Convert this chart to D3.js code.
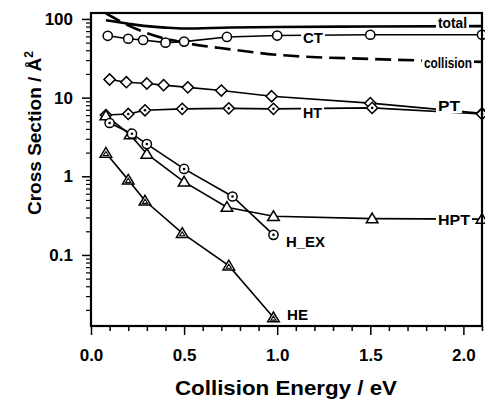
<!DOCTYPE html>
<html><head><meta charset="utf-8">
<script src="https://cdn.jsdelivr.net/npm/d3@7"></script>
<style>body{margin:0;background:#fff}svg{display:block}</style>
</head><body><svg id="c" width="485" height="405"></svg>
<script>
// ---- data ----
const totalX = [0.08, 0.2, 0.3, 0.4, 0.5, 0.75, 1.0, 1.5, 2.1];
const totalY = [96, 87, 81, 77.5, 75.6, 78, 79, 80, 81];
const collisionX = [0.08, 0.2, 0.3, 0.5, 0.75, 1.0, 1.5, 2.1];
const collisionY = [118, 83, 66, 50, 41, 35, 31, 28.5];
const ctX = [0.09, 0.2, 0.28, 0.4, 0.5, 0.73, 1.0, 1.5, 2.1];
const ctY = [61, 56, 54, 50, 51.5, 59, 61.5, 63, 63];
const ptX = [0.1, 0.19, 0.3, 0.39, 0.52, 0.7, 0.97, 1.5, 2.1];
const ptY = [17, 15.7, 15.1, 14.4, 13.5, 12.3, 10.4, 8.5, 6.3];
const htX = [0.08, 0.2, 0.29, 0.49, 0.74, 0.98, 1.51, 2.1];
const htY = [6.0, 6.2, 6.9, 7.2, 7.3, 7.2, 7.4, 6.2];
const hptX = [0.08, 0.21, 0.3, 0.5, 0.73, 0.98, 1.51, 2.1];
const hptY = [5.9, 3.38, 1.92, 0.85, 0.405, 0.31, 0.29, 0.285];
const hexX = [0.1, 0.22, 0.3, 0.5, 0.76, 0.98];
const hexY = [4.76, 3.48, 2.57, 1.24, 0.553, 0.18];
const heX = [0.08, 0.2, 0.29, 0.49, 0.74, 0.98];
const heY = [1.98, 0.90, 0.488, 0.189, 0.073, 0.016];
const xMajorTicks = [0, 0.5, 1.0, 1.5, 2.0];
const yMajorTicks = [0.1, 1, 10, 100];
const xTitle = "Collision Energy / eV";
const yTitle = "Cross Section / Å";

const FONT = "Liberation Sans, Arial, sans-serif";
const svg = d3.select("#c");
const L = 91, T = 13, R = 482, B = 326;
const x = d3.scaleLinear().domain([0, 2.1]).range([L, R]);
const y = d3.scaleLog().domain([0.0125, 119]).range([B, T]);

svg.append("defs").append("clipPath").attr("id", "clip")
  .append("rect").attr("x", L).attr("y", T).attr("width", R - L).attr("height", B - T);

// ---- axes ----
const xMinor = d3.range(0, 22).map(i => i / 10).filter(v => !xMajorTicks.some(m => Math.abs(m - v) < 1e-9));
svg.append("g").attr("transform", `translate(0,${B})`)
  .call(d3.axisBottom(x).tickValues(xMinor).tickSize(5).tickFormat(""))
  .call(g => g.select(".domain").remove())
  .selectAll("line").attr("stroke", "#000").attr("stroke-width", 1.5);
const gx = svg.append("g").attr("transform", `translate(0,${B})`)
  .call(d3.axisBottom(x).tickValues(xMajorTicks).tickSize(9).tickPadding(14).tickFormat(d3.format(".1f")));
gx.select(".domain").remove();
gx.selectAll("line").attr("stroke", "#000").attr("stroke-width", 1.5);
gx.selectAll("text").attr("font-family", FONT).attr("font-weight", "bold")
  .attr("font-size", 17).attr("fill", "#000");

const yMinor = [];
[-2, -1, 0, 1].forEach(e => { for (let k = 2; k <= 9; k++) { const v = k * Math.pow(10, e); if (v >= 0.0125 && v <= 119) yMinor.push(v); } });
svg.append("g").attr("transform", `translate(${L},0)`)
  .call(d3.axisLeft(y).tickValues(yMinor).tickSize(5).tickFormat(""))
  .call(g => g.select(".domain").remove())
  .selectAll("line").attr("stroke", "#000").attr("stroke-width", 1.2);
const gy = svg.append("g").attr("transform", `translate(${L},0)`)
  .call(d3.axisLeft(y).tickValues(yMajorTicks).tickSize(9).tickPadding(9).tickFormat(d => String(d)));
gy.select(".domain").remove();
gy.selectAll("line").attr("stroke", "#000").attr("stroke-width", 1.5);
gy.selectAll("text").attr("font-family", FONT).attr("font-weight", "bold")
  .attr("font-size", 17).attr("fill", "#000");

// ---- lines ----
const plot = svg.append("g").attr("clip-path", "url(#clip)");
const zip = (xs, ys) => xs.map((v, i) => [v, ys[i]]);
const straight = d3.line().x(d => x(d[0])).y(d => y(d[1]));
const smooth = d3.line().x(d => x(d[0])).y(d => y(d[1])).curve(d3.curveMonotoneX);

plot.append("path").attr("d", smooth(zip(totalX, totalY))).attr("fill", "none").attr("stroke", "#000").attr("stroke-width", 2.6);
plot.append("path").attr("d", smooth(zip(collisionX, collisionY))).attr("fill", "none").attr("stroke", "#000")
  .attr("stroke-width", 2.6).attr("stroke-dasharray", "16,7");
[[ctX, ctY], [ptX, ptY], [htX, htY], [hptX, hptY], [hexX, hexY], [heX, heY]].forEach(([xs, ys]) => {
  plot.append("path").attr("d", straight(zip(xs, ys))).attr("fill", "none").attr("stroke", "#000").attr("stroke-width", 1.6);
});

// ---- inline labels ----
const labels = [
  {t: "total", x: 438, y: 28, w: 29},
  {t: "CT", x: 303, y: 43, w: 20},
  {t: "collision", x: 424, y: 68, w: 48},
  {t: "PT", x: 438, y: 111, w: 22},
  {t: "HT", x: 303, y: 118, w: 19},
  {t: "HPT", x: 438, y: 225, w: 32},
  {t: "H_EX", x: 286, y: 247, w: 39},
  {t: "HE", x: 287, y: 320, w: 21}
];
const lg = svg.append("g");
labels.forEach(l => {
  lg.append("rect").attr("x", l.x - 2).attr("y", l.y - 12).attr("width", l.w + 4).attr("height", 14).attr("fill", "#fff");
  lg.append("text").attr("x", l.x).attr("y", l.y).text(l.t)
    .attr("font-family", FONT).attr("font-weight", "bold").attr("font-size", 15)
    .attr("textLength", l.w).attr("lengthAdjust", "spacingAndGlyphs");
});

// ---- markers ----
const mk = svg.append("g").attr("stroke", "#000").attr("stroke-width", 1.5);
function drawMarkers(xs, ys, kind) {
  const g = mk.append("g");
  const pts = g.selectAll("g").data(zip(xs, ys)).join("g")
    .attr("transform", d => `translate(${x(d[0])},${y(d[1])})`);
  if (kind === "circle" || kind === "circleDot") pts.append("circle").attr("r", 4.6).attr("fill", "#fff");
  if (kind === "diamond" || kind === "diamondDot") pts.append("path").attr("d", "M0,-5.6L5.6,0L0,5.6L-5.6,0Z").attr("fill", "#fff");
  if (kind === "triangle" || kind === "triangleIn") pts.append("path").attr("d", "M0,-5.5L5.8,4.2L-5.8,4.2Z").attr("fill", "#fff");
  if (kind === "circleDot" || kind === "diamondDot") pts.append("circle").attr("r", 1.3).attr("fill", "#000").attr("stroke", "none");
  if (kind === "triangleIn") pts.append("path").attr("d", "M0,-1.5L2.6,2.6L-2.6,2.6Z").attr("fill", "none").attr("stroke-width", 1.1);
}
drawMarkers(ctX, ctY, "circle");
drawMarkers(ptX, ptY, "diamond");
drawMarkers(htX, htY, "diamondDot");
drawMarkers(hptX, hptY, "triangle");
drawMarkers(hexX, hexY, "circleDot");
drawMarkers(heX, heY, "triangleIn");

// ---- frame ----
svg.append("rect").attr("x", L).attr("y", T).attr("width", R - L).attr("height", B - T)
  .attr("fill", "none").attr("stroke", "#000").attr("stroke-width", 2.2);

// ---- titles ----
svg.append("text").attr("x", 286).attr("y", 395).attr("text-anchor", "middle")
  .attr("font-family", FONT).attr("font-weight", "bold").attr("font-size", 20)
  .attr("textLength", 222).attr("lengthAdjust", "spacingAndGlyphs").text(xTitle);
const yt = svg.append("text").attr("transform", "translate(41,133) rotate(-90)").attr("text-anchor", "middle")
  .attr("font-family", FONT).attr("font-weight", "bold").attr("font-size", 19);
yt.append("tspan").text(yTitle);
yt.append("tspan").attr("font-size", 12).attr("dy", -8).text("2");
</script></body></html>
